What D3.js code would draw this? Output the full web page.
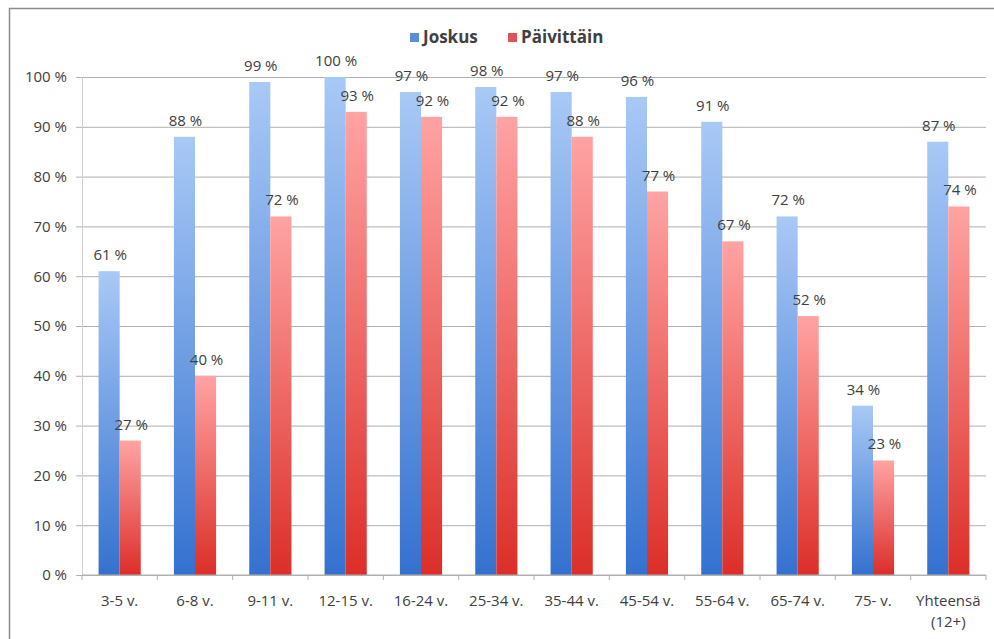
<!DOCTYPE html>
<html lang="fi">
<head>
<meta charset="UTF-8">
<title>Joskus / Päivittäin</title>
<script src="https://d3js.org/d3.v7.min.js"></script>
<style>
  body { margin: 0; background: #fff; }
  svg text { font-family: "Open Sans", "Noto Sans", sans-serif; fill: #404040; }
</style>
</head>
<body>
<div id="chart"></div>
<script>
    // data
    const categories = ["3-5 v.", "6-8 v.", "9-11 v.", "12-15 v.", "16-24 v.", "25-34 v.",
        "35-44 v.", "45-54 v.", "55-64 v.", "65-74 v.", "75- v.", "Yhteensä\n(12+)"];
    const joskus = [61, 88, 99, 100, 97, 98, 97, 96, 91, 72, 34, 87];
    const paivittain = [27, 40, 72, 93, 92, 92, 88, 77, 67, 52, 23, 74];
    const seriesNames = ["Joskus", "Päivittäin"];
    const yTicks = [0, 10, 20, 30, 40, 50, 60, 70, 80, 90, 100];

    const width = 994, height = 639;
    const margin = { top: 77, right: 8, bottom: 64, left: 82 };

    const svg = d3.select("#chart").append("svg")
        .attr("width", width)
        .attr("height", height);

    // gradients per series
    const defs = svg.append("defs");
    const gradStops = [
        { id: "gBlue", top: "#a9c9f6", bottom: "#3471cf" },
        { id: "gRed", top: "#ffa3a3", bottom: "#dc2e28" }
    ];
    gradStops.forEach(g => {
        const lg = defs.append("linearGradient").attr("id", g.id)
            .attr("x1", 0).attr("y1", 0).attr("x2", 0).attr("y2", 1);
        lg.append("stop").attr("offset", "0%").attr("stop-color", g.top);
        lg.append("stop").attr("offset", "100%").attr("stop-color", g.bottom);
    });

    // outer frame (runs off the right and bottom edge)
    svg.append("path")
        .attr("d", `M9.5,${height + 2} V8.5 H${width + 2}`)
        .attr("fill", "none")
        .attr("stroke", "#8c8c8c")
        .attr("stroke-width", 1.5);

    const x = d3.scaleBand()
        .domain(categories)
        .range([margin.left, width - margin.right])
        .paddingInner(0.44)
        .paddingOuter(0.22);

    const xSub = d3.scaleBand()
        .domain(seriesNames)
        .range([0, x.bandwidth()]);

    const y = d3.scaleLinear()
        .domain([0, 100])
        .range([height - margin.bottom, margin.top]);

    // gridlines
    svg.append("g")
        .attr("transform", `translate(${margin.left},0)`)
        .call(d3.axisLeft(y).tickValues(yTicks).tickSize(-(width - margin.right - margin.left)).tickFormat(""))
        .call(g => g.select(".domain").remove())
        .call(g => g.selectAll("line").attr("stroke", "#b0b0b0"));

    // y axis
    const yAxis = svg.append("g")
        .attr("transform", `translate(${margin.left},0)`)
        .call(d3.axisLeft(y).tickValues(yTicks).tickSize(6).tickPadding(9).tickFormat(d => d + " %"));
    yAxis.select(".domain").attr("stroke", "#d0d0d0");
    yAxis.selectAll("line").attr("stroke", "#b0b0b0");
    yAxis.selectAll("text").style("font-size", "15px").attr("fill", "#404040");

    // bars
    const seriesData = [joskus, paivittain];
    const groups = svg.append("g").selectAll("g")
        .data(categories)
        .join("g")
        .attr("transform", d => `translate(${x(d)},0)`);

    seriesNames.forEach((s, si) => {
        groups.append("rect")
            .attr("x", xSub(s))
            .attr("width", xSub.bandwidth())
            .attr("y", (d, i) => y(seriesData[si][i]))
            .attr("height", (d, i) => y(0) - y(seriesData[si][i]))
            .attr("fill", `url(#${gradStops[si].id})`);
    });

    // value labels
    seriesNames.forEach((s, si) => {
        groups.append("text")
            .attr("x", xSub(s) + xSub.bandwidth() / 2 + (si ? 1 : 1))
            .attr("y", (d, i) => y(seriesData[si][i]) - 11)
            .attr("text-anchor", "middle")
            .style("font-size", "15px")
            .text((d, i) => seriesData[si][i] + " %");
    });

    // x axis
    const xAxis = svg.append("g")
        .attr("transform", `translate(0,${y(0)})`);
    xAxis.append("line")
        .attr("x1", margin.left).attr("x2", width - margin.right)
        .attr("stroke", "#b0b0b0");
    xAxis.selectAll(".tk")
        .data(d3.range(categories.length + 1))
        .join("line")
        .attr("x1", i => margin.left + i * (width - margin.right - margin.left) / categories.length)
        .attr("x2", i => margin.left + i * (width - margin.right - margin.left) / categories.length)
        .attr("y1", 0).attr("y2", 5)
        .attr("stroke", "#b0b0b0");
    xAxis.selectAll(".lbl")
        .data(categories)
        .join("text")
        .attr("x", d => x(d) + x.bandwidth() / 2)
        .attr("y", 31)
        .attr("text-anchor", "middle")
        .style("font-size", "15px")
        .each(function (d) {
            const lines = d.split("\n");
            d3.select(this).selectAll("tspan")
                .data(lines)
                .join("tspan")
                .attr("x", x(d) + x.bandwidth() / 2)
                .attr("dy", (l, j) => j ? 21 : 0)
                .text(l => l);
        });

    // legend
    const legendColors = ["#5b8ed6", "#e0525a"];
    const legend = svg.append("g").attr("transform", "translate(410,37)");
    const legendX = [0, 98];
    seriesNames.forEach((s, i) => {
        const lg = legend.append("g").attr("transform", `translate(${legendX[i]},0)`);
        lg.append("rect")
            .attr("x", 0).attr("y", -4)
            .attr("width", 9).attr("height", 9)
            .attr("fill", legendColors[i]);
        lg.append("text")
            .attr("x", 13).attr("y", 6)
            .style("font-size", "17px")
            .style("font-weight", "bold")
            .text(s);
    });
</script>
</body>
</html>
